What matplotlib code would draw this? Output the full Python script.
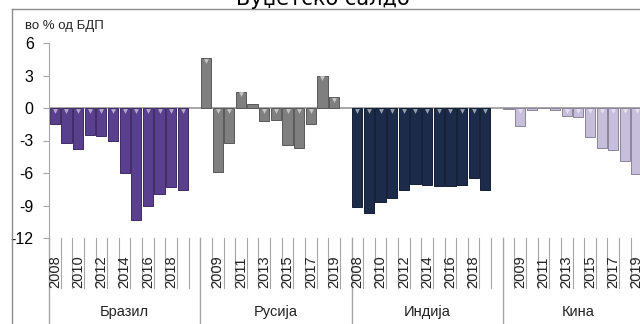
import numpy as np
import matplotlib.pyplot as plt
from matplotlib.colors import to_rgb
from matplotlib.lines import Line2D

plt.rcParams['font.family'] = ['Liberation Sans', 'DejaVu Sans']

title = "Буџетско салдо"
unit_label = "во % од БДП"
years = list(range(2008, 2020))
countries = ["Бразил", "Русија", "Индија", "Кина"]
brazil = [-1.5, -3.2, -3.8, -2.5, -2.6, -3.0, -6.0, -10.3, -9.0, -7.9, -7.3, -7.6]
russia = [4.6, -5.9, -3.2, 1.5, 0.4, -1.2, -1.1, -3.4, -3.7, -1.5, 3.0, 1.0]
india = [-9.1, -9.7, -8.7, -8.3, -7.6, -7.0, -7.1, -7.2, -7.2, -7.1, -6.5, -7.6]
china = [-0.1, -1.7, -0.2, 0.0, -0.2, -0.7, -0.8, -2.7, -3.7, -3.9, -4.9, -6.1]
colors = ["#5b3f8f", "#7f7f7f", "#1c2b4a", "#c6bedb"]
yticks = [6, 3, 0, -3, -6, -9, -12]

W, H = 640, 324
fig = plt.figure(figsize=(W / 100, H / 100), dpi=100)

# one slot per year plus an empty slot closing every country group
slots = len(years) + 1
n_slots = slots * len(countries)
ax_l, ax_r, ax_t, ax_b = 49, 654, 43, 238
ax = fig.add_axes([ax_l / W, 1 - ax_b / H, (ax_r - ax_l) / W, (ax_b - ax_t) / H])
ax.set_xlim(0, n_slots)
ax.set_ylim(-12, 6)

grey = "#a6a6a6"


def shade(c, f):
    r = np.array(to_rgb(c))
    return tuple(r + (1 - r) * f) if f > 0 else tuple(r * (1 + f))


for g, vals in enumerate([brazil, russia, india, china]):
    x = g * slots + np.arange(len(vals)) + 0.5
    v = np.array(vals)
    ax.bar(x, v, width=0.88, color=colors[g], edgecolor=shade(colors[g], -0.3),
           linewidth=0.7, zorder=2)
    # bevel highlight on the top edge of the taller columns
    big = np.abs(v) >= 0.5
    top = np.maximum(v, 0)
    ax.scatter(x[big], top[big] - 0.25, marker="v", s=12,
               color=shade(colors[g], 0.55), linewidths=0, zorder=3)

ax.axhline(0, color=grey, lw=1.4, zorder=1)

for s in ["top", "right", "bottom"]:
    ax.spines[s].set_visible(False)
ax.spines["left"].set_color(grey)
ax.set_yticks(yticks)
ax.set_yticklabels([str(t) for t in yticks], fontsize=11.5)
ax.tick_params(axis="y", direction="out", length=4, color=grey, pad=7)
ax.set_xticks([])

# category axis: year labels, slot dividers and group separators
trans = ax.get_xaxis_transform()
frac = lambda py: -(py - ax_b) / (ax_b - ax_t)
for i in range(n_slots + 1):
    long_line = i % slots == 0
    y_end = frac(H + 5) if long_line else frac(288)
    ax.add_line(Line2D([i, i], [0, y_end], transform=trans, color=grey,
                       lw=1.0 if long_line else 0.8, clip_on=False))
for i in range(n_slots):
    k = i % slots
    if i % 2 == 0 and k < len(years):
        ax.text(i + 0.5, frac(288), str(years[k]), transform=trans, rotation=90,
                ha="center", va="bottom", fontsize=10.5, color="#222222")
for g, name in enumerate(countries):
    ax.text(g * slots + slots / 2, frac(312), name, transform=trans,
            ha="center", va="center", fontsize=10.5, color="#222222")

fig.text(25 / W, 1 - 29 / H, unit_label, fontsize=9.5, va="baseline", color="#222222")
fig.text(323 / W, 1 - 5 / H, title, fontsize=15, ha="center", va="baseline",
         family="DejaVu Sans")

# outer chart frame (top and left edges)
fig.add_artist(Line2D([12 / W, 1.0], [1 - 9 / H] * 2, transform=fig.transFigure,
                      color="#8c8c8c", lw=1.0))
fig.add_artist(Line2D([12 / W] * 2, [0, 1 - 9 / H], transform=fig.transFigure,
                      color="#8c8c8c", lw=1.0))

fig.savefig("out.png", dpi=100)
